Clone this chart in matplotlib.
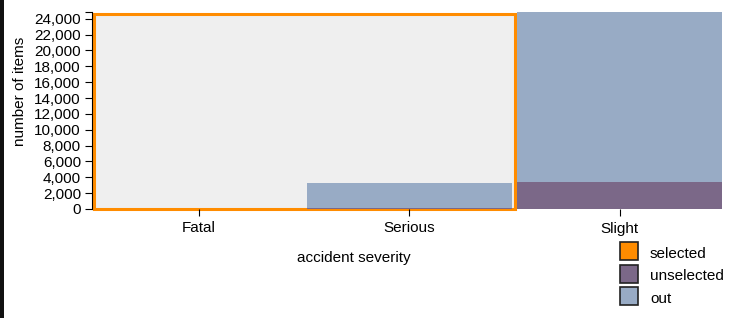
import matplotlib.pyplot as plt
from matplotlib.patches import Rectangle

plt.rcParams['font.family'] = ['Liberation Sans', 'DejaVu Sans']

# data
severity = ['Fatal', 'Serious', 'Slight']
selected = [0, 0, 0]
unselected = [0, 120, 3400]
out = [40, 3180, 21400]
yticks = list(range(0, 24001, 2000))

colors = {'selected': '#ff8c00', 'unselected': '#7b6888', 'out': '#98abc5'}

fig = plt.figure(figsize=(7.41, 3.18), dpi=100)
ax = fig.add_axes([92 / 741, 1 - 209 / 318, 635 / 741, 197 / 318])

x = range(len(severity))
w = 0.974

# brush / selection area behind the bars
ax.add_patch(Rectangle((-0.5, 0), 2.0, 24650, facecolor='#efefef',
                       edgecolor='#ff8c00', linewidth=2.2, zorder=0, clip_on=False))

bottom_sel = [s for s in selected]
ax.bar(x, selected, width=w, color=colors['selected'], zorder=1)
ax.bar(x, unselected, width=w, bottom=bottom_sel, color=colors['unselected'], zorder=1)
bottom_out = [s + u for s, u in zip(selected, unselected)]
ax.bar(x, out, width=w, bottom=bottom_out, color=colors['out'], zorder=1)

ax.set_xlim(-0.508, 2.509)
ax.set_ylim(0, 24850)
ax.set_yticks(yticks)
ax.set_yticklabels([f'{v:,}' for v in yticks])
ax.set_yticks([24850], minor=True)
ax.set_xticks(list(x))
ax.set_xticklabels(severity)

for s in ['top', 'right', 'bottom']:
    ax.spines[s].set_visible(False)
ax.spines['left'].set_linewidth(0.8)
ax.tick_params(axis='y', which='both', length=5, width=0.8, pad=3, labelsize=11)
ax.tick_params(axis='x', length=5, width=0.8, pad=4, labelsize=11)

fig.text(20 / 741, 1 - 91 / 318, 'number of items', rotation=90,
         ha='center', va='center', fontsize=11)
fig.text(354 / 741, 1 - 258 / 318, 'accident severity',
         ha='center', va='center', fontsize=11)

# legend
for i, name in enumerate(['selected', 'unselected', 'out']):
    cy = 251 + i * 22.5
    fig.add_artist(Rectangle((620 / 741, 1 - (cy + 9) / 318), 18 / 741, 18 / 318,
                             facecolor=colors[name], edgecolor='#222222', linewidth=1.2,
                             transform=fig.transFigure))
    fig.text(650 / 741, 1 - (cy + 3) / 318, name, ha='left', va='center', fontsize=11)

# dark strip on the left edge of the screenshot
fig.add_artist(Rectangle((0, 0), 4 / 741, 1, facecolor='#111111', edgecolor='none',
                         transform=fig.transFigure))

fig.savefig('out.png', dpi=100)
